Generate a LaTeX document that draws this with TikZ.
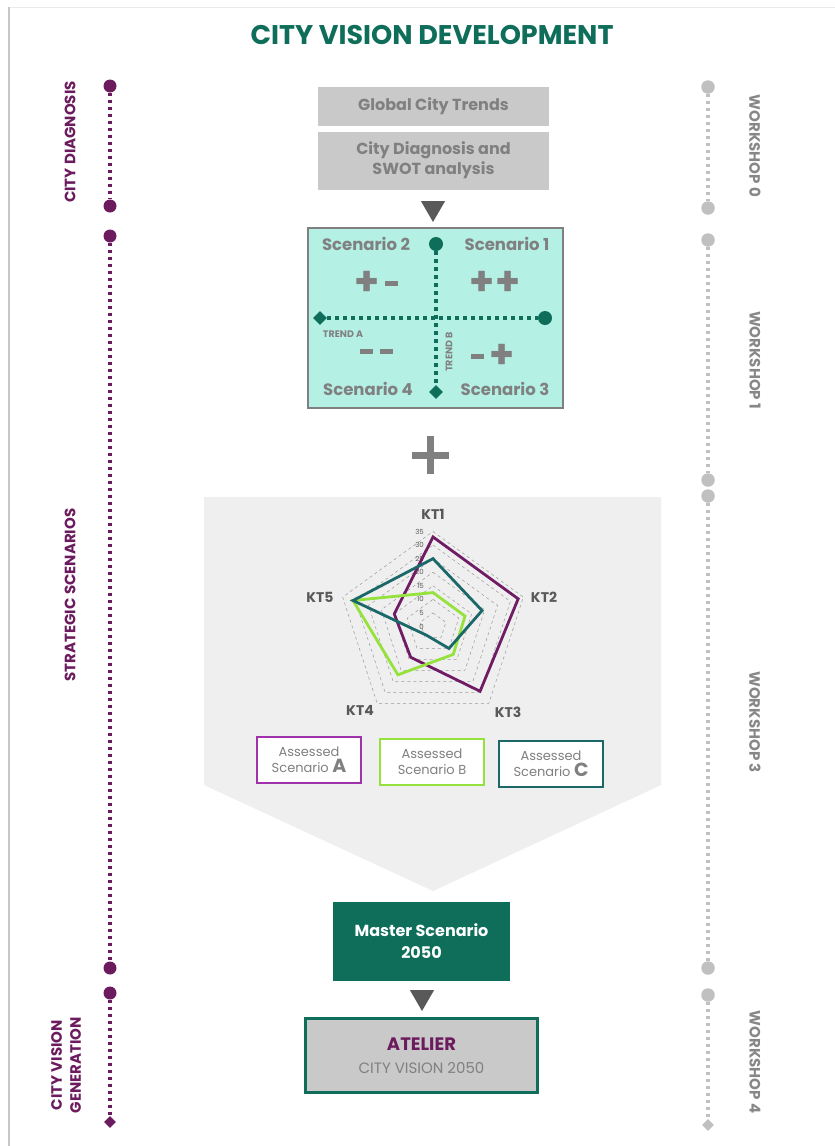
\documentclass[tikz,border=0pt]{standalone}
\usepackage{fontspec}
\setmainfont{Poppins}
\usetikzlibrary{shapes.geometric}
\definecolor{tealg}{RGB}{14,110,90}
\definecolor{purp}{RGB}{108,28,94}
\definecolor{gtxt}{RGB}{128,128,128}
\definecolor{dgray}{RGB}{89,89,89}
\definecolor{lgray}{RGB}{201,201,201}
\definecolor{aqua}{RGB}{180,240,228}
\definecolor{panel}{RGB}{239,239,239}
\definecolor{serA}{RGB}{112,28,100}
\definecolor{serB}{RGB}{150,226,60}
\definecolor{serC}{RGB}{26,104,104}
\definecolor{boxA}{RGB}{160,50,170}
\definecolor{tlg}{RGB}{192,192,192}
\definecolor{tltxt}{RGB}{135,135,135}
\newcommand\sdash{\raisebox{9.5pt}{\rule{13pt}{5pt}}}
\tikzset{
  pdot/.style={circle,fill=purp,inner sep=0,minimum size=13pt},
  pdia/.style={diamond,fill=purp,inner sep=0,minimum size=12pt},
  pline/.style={draw=purp,line width=3.5pt,dash pattern=on 3.5pt off 3.5pt},
  plab/.style={text=purp,font=\bfseries\fontsize{15}{18}\selectfont,rotate=90,align=center},
  gdot/.style={circle,fill=tlg,inner sep=0,minimum size=13.5pt},
  gdia/.style={diamond,fill=tlg,inner sep=0,minimum size=12pt},
  gline/.style={draw=tlg,line width=3.5pt,dash pattern=on 3.5pt off 3.5pt},
  glab/.style={text=tltxt,font=\bfseries\fontsize{15}{17}\selectfont,rotate=-90},
  graybox/.style={fill=lgray,text=gtxt,font=\bfseries\fontsize{16}{20}\selectfont,align=center,inner sep=0,minimum width=231pt},
  tri/.style={regular polygon,regular polygon sides=3,shape border rotate=180,fill=dgray,inner sep=0,minimum size=28pt},
  tdot/.style={circle,fill=tealg,inner sep=0,minimum size=14pt},
  tdia/.style={diamond,fill=tealg,inner sep=0,minimum size=14pt},
  tline/.style={draw=tealg,line width=4pt,dash pattern=on 4pt off 4pt},
  sclab/.style={text=gtxt,font=\bfseries\fontsize{16.5}{19}\selectfont},
  sign/.style={text=gtxt,font=\bfseries\fontsize{40}{40}\selectfont},
  ktlab/.style={text=dgray,font=\bfseries\fontsize{14}{16}\selectfont},
  grid/.style={draw=gray!80,dashed,line width=0.5pt},
  leg/.style={fill=white,line width=2pt,text=gtxt,font=\fontsize{13}{16}\selectfont,align=center,minimum width=104pt,minimum height=46pt,inner sep=0},
}
\begin{document}
\begin{tikzpicture}[x=1pt,y=-1pt]
\useasboundingbox (0,0) rectangle (835,1146);
\fill[white] (0,0) rectangle (835,1146);
\draw[black!8,line width=0.8pt] (9,7) -- (835,7);
\draw[black!22,line width=2pt] (9,7) -- (9,1146);

% title
\node[text=tealg,font=\bfseries\fontsize{27}{30}\selectfont] (title) at (432,35) {CITY VISION DEVELOPMENT};

% left timeline
\node[pdot] (l1) at (110,86) {};
\node[pdot] (l2) at (110,206) {};
\node[pdot] (l3) at (110,236) {};
\node[pdot] (l4) at (110,968) {};
\node[pdot] (l5) at (110,993) {};
\node[pdia] (l6) at (110,1122) {};
\draw[pline] (l1) -- (l2);
\draw[pline] (l3) -- (l4);
\draw[pline] (l5) -- (l6);
\node[plab] (lab1) at (70,142) {CITY DIAGNOSIS};
\node[plab] (lab2) at (70,595) {STRATEGIC SCENARIOS};
\node[plab,font=\bfseries\fontsize{15}{19}\selectfont] (lab3) at (66,1065) {CITY VISION\\GENERATION};

% right timeline
\node[gdot] (r1) at (708,87) {};
\node[gdot] (r2) at (708,208) {};
\node[gdot] (r3) at (708,240) {};
\node[gdot] (r4) at (708,480) {};
\node[gdot] (r5) at (708,496) {};
\node[gdot] (r6) at (708,968) {};
\node[gdot] (r7) at (708,995) {};
\node[gdia] (r8) at (708,1125) {};
\draw[gline] (r1) -- (r2);
\draw[gline] (r3) -- (r4);
\draw[gline] (r5) -- (r6);
\draw[gline] (r7) -- (r8);
\node[glab] (w0) at (755,146) {WORKSHOP 0};
\node[glab] (w1) at (755,360) {WORKSHOP 1};
\node[glab] (w3) at (755,722) {WORKSHOP 3};
\node[glab] (w4) at (755,1062) {WORKSHOP 4};

% top boxes
\node[graybox,minimum height=39pt] (gct) at (433.5,106) {Global City Trends};
\node[graybox,minimum height=58pt] (cda) at (433.5,160.5) {City Diagnosis and\\SWOT analysis};
\node[tri] (t1) at (433,208) {};

% scenario box
\node[draw=gtxt,fill=aqua,line width=2.5pt,minimum width=255pt,minimum height=180pt,inner sep=0] (scbox) at (435.5,318) {};
\node[tdot] (sct) at (436,244) {};
\node[tdia] (scb) at (436,392) {};
\node[tdia] (scl) at (320,318) {};
\node[tdot] (scr) at (545,318) {};
\draw[tline] (sct) -- (scb);
\draw[tline] (scl) -- (scr);
\node[sclab] (s2) at (366,244) {Scenario 2};
\node[sclab] (s1) at (507,244) {Scenario 1};
\node[sclab] (s4) at (368,389) {Scenario 4};
\node[sclab] (s3) at (505,389) {Scenario 3};
\node[sign] (pm) at (376,283) {+\hspace{5pt}\sdash};
\node[sign] (pp) at (495,283) {++};
\node[sign] (mm) at (376,356) {\sdash\hspace{7pt}\sdash};
\node[sign] (mp) at (493,356) {\sdash\hspace{5pt}+};
\node[text=gtxt,font=\bfseries\fontsize{9.5}{11}\selectfont] (ta) at (343,334) {TREND A};
\node[text=gtxt,font=\bfseries\fontsize{9.5}{11}\selectfont,rotate=90] (tb) at (449,352) {TREND B};

% plus
\fill[gtxt] (412,451.5) rectangle (449,458.5);
\fill[gtxt] (427,436) rectangle (434,474);

% big panel
\fill[panel] (204,497) -- (661,497) -- (661,785) -- (433,891) -- (204,785) -- cycle;

% radar chart
\begin{scope}[shift={(433,626.5)},y=1pt]
  \foreach \k in {1,...,7}{
    \draw[grid] (90:\k*13.57) -- (18:\k*13.57) -- (-54:\k*13.57) -- (-126:\k*13.57) -- (162:\k*13.57) -- cycle;
  }
  \foreach \v [count=\i from 0] in {0,5,10,15,20,25,30,35}{
    \node[anchor=east,text=dgray,font=\fontsize{7}{8}\selectfont,inner sep=0] at (-9,\i*13.57) {\v};
  }
  \def\s{2.714}
  \draw[serA,line width=2.8pt,line join=miter] (90:33*\s) -- (18:33*\s) -- (-54:29.5*\s) -- (-126:14*\s) -- (162:15*\s) -- cycle;
  \draw[serB,line width=2.8pt,line join=miter] (90:12.5*\s) -- (18:12.4*\s) -- (-54:12.7*\s) -- (-126:22*\s) -- (162:31*\s) -- cycle;
  \draw[serC,line width=2.8pt,line join=miter] (90:25*\s) -- (18:19*\s) -- (-54:10*\s) -- (-126:4*\s) -- (162:31*\s) -- cycle;
\end{scope}
\node[ktlab] (kt1) at (433,514) {KT1};
\node[ktlab] (kt2) at (544,597) {KT2};
\node[ktlab] (kt3) at (508,712) {KT3};
\node[ktlab] (kt4) at (360,710) {KT4};
\node[ktlab] (kt5) at (320,597) {KT5};

% legend
\node[leg,draw=boxA] (la) at (309,760) {Assessed\\Scenario {\fontsize{19}{16}\selectfont\bfseries A}};
\node[leg,draw=serB] (lb) at (432,762) {Assessed\\Scenario B};
\node[leg,draw=serC] (lc) at (551,764) {Assessed\\Scenario {\fontsize{19}{16}\selectfont\bfseries C}};

% master
\node[fill=tealg,text=white,font=\bfseries\fontsize{16}{22}\selectfont,align=center,minimum width=177pt,minimum height=79pt,inner sep=0] (master) at (421.5,941.5) {Master Scenario\\2050};
\node[tri] (t2) at (422,997) {};
\node[fill=lgray,draw=tealg,line width=3pt,align=center,minimum width=232pt,minimum height=74pt,inner sep=0,font=\fontsize{16}{23}\selectfont] (atelier) at (421.5,1055.5) {{\color{purp}\bfseries\fontsize{18}{23}\selectfont ATELIER}\\{\color{gtxt}\fontsize{15}{23}\selectfont CITY VISION 2050}};
\end{tikzpicture}
\end{document}
